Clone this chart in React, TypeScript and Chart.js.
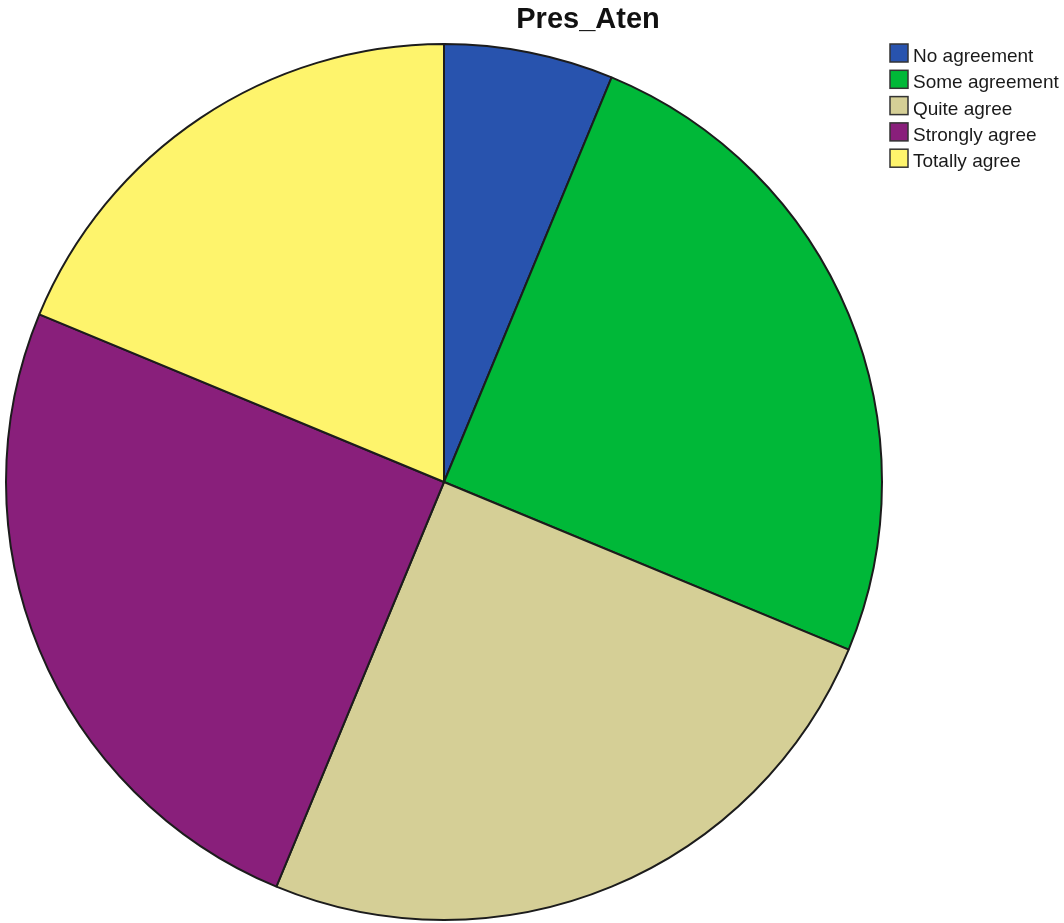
import { useEffect, useRef } from "react";
import { Chart, registerables } from "chart.js";

Chart.register(...registerables);

const chartTitle = "Pres_Aten";
const categories = ["No agreement", "Some agreement", "Quite agree", "Strongly agree", "Totally agree"];
const counts = [5, 20, 20, 20, 15];
const sliceColors = ["#2853AE", "#00B838", "#D5CF96", "#891F7B", "#FEF46C"];
const edgeColor = "#1c1c1c";

const FONT = '"Liberation Sans", Arial, sans-serif';

const titleAndLegend = {
  id: "titleAndLegend",
  afterDraw(chart: any) {
    const ctx = chart.ctx as CanvasRenderingContext2D;
    ctx.save();
    // title
    ctx.fillStyle = "#111111";
    ctx.font = `bold 29px ${FONT}`;
    ctx.textAlign = "center";
    ctx.textBaseline = "alphabetic";
    ctx.fillText(chartTitle, 588, 28);

    // legend
    const labels: string[] = chart.data.labels;
    const bg: string[] = chart.data.datasets[0].backgroundColor;
    ctx.font = `19px ${FONT}`;
    ctx.textAlign = "left";
    labels.forEach((lab, i) => {
      const top = 44 + i * 26.3;
      ctx.fillStyle = bg[i];
      ctx.fillRect(890, top, 18, 18);
      ctx.lineWidth = 1.5;
      ctx.strokeStyle = "#333333";
      ctx.strokeRect(890, top, 18, 18);
      ctx.fillStyle = "#1a1a1a";
      ctx.fillText(lab, 913, top + 18);
    });
    ctx.restore();
  },
};

export default function App() {
  const ref = useRef<HTMLCanvasElement | null>(null);
  useEffect(() => {
    if (!ref.current) return;
    const chart = new Chart(ref.current, {
      type: "pie",
      data: {
        labels: categories,
        datasets: [
          {
            data: counts,
            backgroundColor: sliceColors,
            borderColor: edgeColor,
            borderWidth: 2,
            hoverOffset: 0,
            offset: 0,
          },
        ],
      },
      options: {
        responsive: false,
        animation: false,
        events: [],
        layout: { padding: { left: 5, top: 43, right: 181, bottom: 2 } },
        plugins: {
          legend: { display: false },
          title: { display: false },
          tooltip: { enabled: false },
        },
      },
      plugins: [titleAndLegend],
    });
    return () => chart.destroy();
  }, []);
  return (
    <div style={{ position: "absolute", left: 0, top: 0, width: 1064, height: 923, background: "#ffffff" }}>
      <canvas ref={ref} width={1064} height={923} />
    </div>
  );
}
